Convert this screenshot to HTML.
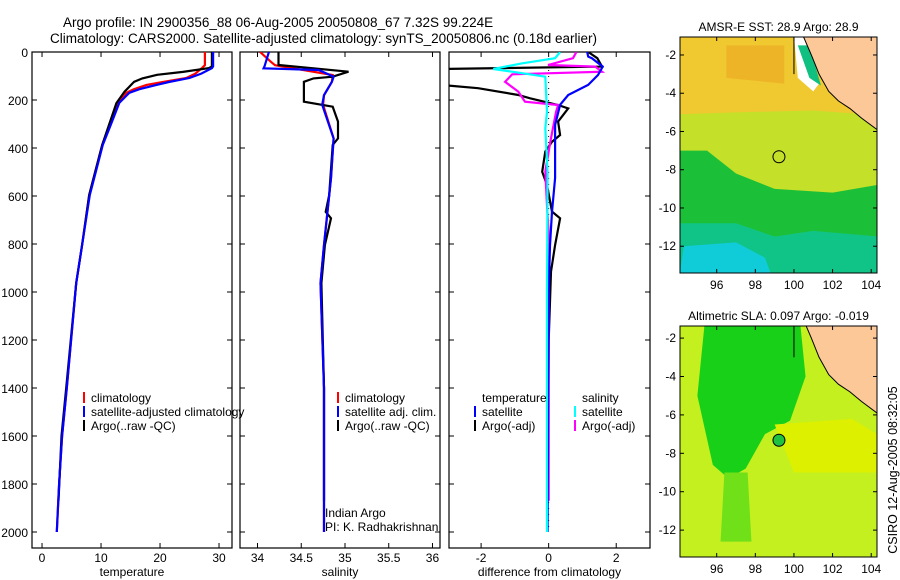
<!DOCTYPE html>
<html><head><meta charset="utf-8"><style>
body{margin:0;background:#fff;}
svg{display:block;font-family:"Liberation Sans",sans-serif;}
</style></head><body>
<svg id="fig" width="900" height="580" viewBox="0 0 900 580" xmlns="http://www.w3.org/2000/svg">
<text x="63" y="27" font-size="13.5">Argo profile: IN 2900356_88 06-Aug-2005 20050808_67 7.32S 99.224E</text>
<text x="50" y="43" font-size="13.5">Climatology: CARS2000. Satellite-adjusted climatology: synTS_20050806.nc (0.18d earlier)</text>
<text transform="translate(897,470) rotate(-90)" text-anchor="middle" font-size="12.5">CSIRO 12-Aug-2005 08:32:05</text>
<g id="plots"></g>
</svg>
<script>
const depthTicks = [0,200,400,600,800,1000,1200,1400,1600,1800,2000];
const tempTicks = [0,10,20,30];
const salTicks = [34,34.5,35,35.5,36];
const salTickLabels = ["34","34.5","35","35.5","36"];
const diffTicks = [-2,0,2];

// temperature panel
const tClimDepth = [0,55,67,90,108,125,137,155,170,212,300,387,596,804,963,1400,1600,1800,2000];
const tClimVal   = [27.6,27.6,27.1,26.0,24.5,20.5,17.7,15.6,14.3,12.8,11.5,10.2,8.0,6.8,5.8,4.2,3.4,2.9,2.5];
const tSatDepth  = [0,60,67,90,108,125,137,155,170,212,300,387,596,804,963,1400,1600,1800,2000];
const tSatVal    = [29.0,29.0,28.8,27.0,25.0,21.5,19.4,16.5,14.8,13.1,11.7,10.3,8.1,6.8,5.8,4.2,3.4,2.9,2.5];
const tArgoDepth = [0,60,67,83,95,110,124,145,165,213,387,596,804,963,1400,1600,1870];
const tArgoVal   = [28.8,28.8,28.3,23.9,19.5,17.0,15.6,14.8,14.0,12.6,10.2,8.0,6.8,5.8,4.1,3.3,2.8];

// salinity panel
const sClimDepth = [0,40,55,96,124,180,220,360,526,804,963,1400,2000];
const sClimVal   = [34.03,34.15,34.2,34.86,34.85,34.76,34.75,34.87,34.84,34.76,34.72,34.76,34.76];
const sSatDepth  = [0,60,68,75,103,124,180,220,360,526,804,963,1400,2000];
const sSatVal    = [34.13,34.08,34.07,34.7,34.87,34.85,34.76,34.74,34.87,34.84,34.76,34.72,34.76,34.76];
const sArgoDepth = [0,54,82,103,110,124,207,228,290,360,387,596,666,693,804,963,1400,1870];
const sArgoVal   = [34.24,34.24,35.04,34.86,34.64,34.53,34.53,34.86,34.92,34.92,34.86,34.82,34.78,34.84,34.77,34.73,34.76,34.76];

// difference panel
const dTSatDepth = [0,19,26,61,96,137,179,220,304,525,666,805,1000,2000];
const dTSatVal   = [1.14,1.17,1.28,1.6,1.46,1.17,0.58,0.34,0.19,0.19,0.1,0.04,0.0,-0.03];
const dTArgoDepth = [0,26,61,71,96,137,151,179,193,221,235,290,346,374,415,499,554,665,693,804,915,1200,1870];
const dTArgoVal   = [1.17,1.44,1.58,-3.2,-3.5,-3.2,-2.09,-0.9,-0.55,0.28,0.58,0.28,0.34,0.1,-0.1,-0.19,-0.05,0.1,0.34,0.19,0.07,0.0,-0.03];
const dSSatDepth = [0,26,47,71,82,103,249,318,500,1000,2000];
const dSSatVal   = [0.34,0.19,-0.78,-1.64,-1.08,-0.1,-0.05,-0.1,-0.03,-0.05,-0.05];
const dSArgoDepth = [0,26,54,61,82,93,124,165,207,221,249,374,499,637,800,1000,1870];
const dSArgoVal   = [0.82,0.72,-0.02,1.38,1.58,-1.08,-1.29,-0.9,-0.7,0.28,0.22,0.05,-0.1,-0.05,0.02,0.0,0.0];

// map data
const lonTicks = [96,98,100,102,104];
const latTicks = [-2,-4,-6,-8,-10,-12];
const argoLon = 99.224, argoLat = -7.32;
const coastLon = [100.5,100.9,101.3,101.8,102.3,102.9,103.5,104.3,104.3];
const coastLat = [-1.06,-2.0,-3.0,-3.9,-4.4,-4.8,-5.3,-5.9,-1.06];

const NS="http://www.w3.org/2000/svg";
const root=document.getElementById('plots');
function mk(tag,attrs,parent){const e=document.createElementNS(NS,tag);for(const k in attrs)e.setAttribute(k,attrs[k]);(parent||root).appendChild(e);return e;}

const Y0=52, DY=0.24, PB=548;
const yDepth=d=>Y0+d*DY;

function panel(name,left,right,xmin,xmax){
  const g=mk('g',{});
  
  
  const sx=v=>left+(v-xmin)/(xmax-xmin)*(right-left);
  return {g,sx,left,right};
}
function frame(p,xt,xtLabels,xlabel,showY){
  const r=mk('rect',{x:p.left,y:Y0,width:p.right-p.left,height:PB-Y0,fill:'none',stroke:'#000','stroke-width':1.2},p.g);
  
  
  depthTicks.forEach(d=>{
    const y=yDepth(d);
    mk('line',{x1:p.left,x2:p.left+5,y1:y,y2:y,stroke:'#000'},p.g);
    mk('line',{x1:p.right-5,x2:p.right,y1:y,y2:y,stroke:'#000'},p.g);
    if(showY){const t=mk('text',{x:p.left-4,y:y+5,'text-anchor':'end','font-size':12},p.g);t.textContent=d;
      
      }
  });
  xt.forEach((v,i)=>{
    const x=p.sx(v);
    mk('line',{x1:x,x2:x,y1:Y0,y2:Y0+5,stroke:'#000'},p.g);
    mk('line',{x1:x,x2:x,y1:PB-5,y2:PB,stroke:'#000'},p.g);
    const t=mk('text',{x:x,y:PB+14,'text-anchor':'middle','font-size':12},p.g);t.textContent=xtLabels[i];
    
    
  });
  const t=mk('text',{x:(p.left+p.right)/2,y:PB+28,'text-anchor':'middle','font-size':12},p.g);t.textContent=xlabel;
  
  
}
function line(p,depths,vals,color,name,w){
  const pts=depths.map((d,i)=>p.sx(vals[i]).toFixed(1)+','+yDepth(d).toFixed(1)).join(' ');
  const l=mk('polyline',{points:pts,fill:'none',stroke:color,'stroke-width':w||2.2,'clip-path':'url(#'+p.clip+')'},p.g);
  
  
}
function clip(p,id){
  let defs=document.getElementById('defs')||mk('defs',{id:'defs'});
  const c=mk('clipPath',{id:id},defs);
  mk('rect',{x:p.left,y:Y0,width:p.right-p.left,height:PB-Y0},c);
  p.clip=id;
}
function legend(p,x,y,items){
  items.forEach((it,i)=>{
    const yy=y+i*14;
    if(it.c){const m=mk('line',{x1:x,x2:x,y1:yy-10,y2:yy+1,stroke:it.c,'stroke-width':2},p.g);
      
      }
    const t=mk('text',{x:x+(it.c?7:0),y:yy,'font-size':12},p.g);t.textContent=it.t;
    
    
  });
}

const p1=panel('temperature-panel',32,232,-1.7,32.2);clip(p1,'c1');
frame(p1,tempTicks,tempTicks.map(String),'temperature',true);
line(p1,tClimDepth,tClimVal,'#f00','climatology-temp-line');
line(p1,tArgoDepth,tArgoVal,'#000','argo-temp-line');
line(p1,tSatDepth,tSatVal,'#00f','satellite-temp-line');
legend(p1,84,402,[{c:'#f00',t:'climatology'},{c:'#00f',t:'satellite-adjusted climatology'},{c:'#000',t:'Argo(..raw -QC)'}]);

const p2=panel('salinity-panel',240,440,33.8,36.086);clip(p2,'c2');
frame(p2,salTicks,salTickLabels,'salinity',false);
line(p2,sClimDepth,sClimVal,'#f00','climatology-salinity-line');
line(p2,sArgoDepth,sArgoVal,'#000','argo-salinity-line');
line(p2,sSatDepth,sSatVal,'#00f','satellite-salinity-line');
legend(p2,338,402,[{c:'#f00',t:'climatology'},{c:'#00f',t:'satellite adj. clim.'},{c:'#000',t:'Argo(..raw -QC)'}]);
legend(p2,325,517,[{t:'Indian Argo'},{t:'PI: K. Radhakrishnan'}]);

const p3=panel('difference-panel',449,650,-2.95,3.0);clip(p3,'c3');
frame(p3,diffTicks,diffTicks.map(String),'difference from climatology',false);
const z=mk('line',{x1:p3.sx(0),x2:p3.sx(0),y1:Y0,y2:yDepth(2000),stroke:'#000','stroke-dasharray':'1 5'},p3.g);


line(p3,dTArgoDepth,dTArgoVal,'#000','argo-temp-diff-line');
line(p3,dSArgoDepth,dSArgoVal,'#f0f','argo-salinity-diff-line');
line(p3,dTSatDepth,dTSatVal,'#00f','satellite-temp-diff-line');
line(p3,dSSatDepth,dSSatVal,'#0ff','satellite-salinity-diff-line');
legend(p3,482,402,[{t:'temperature'}]);
legend(p3,582,402,[{t:'salinity'}]);
legend(p3,475,416,[{c:'#00f',t:'satellite'},{c:'#000',t:'Argo(-adj)'}]);
legend(p3,575,416,[{c:'#0ff',t:'satellite'},{c:'#f0f',t:'Argo(-adj)'}]);

function map(name,top,bottom,latTop,title,sst){
  const L=680,R=877,lonMin=94.1,lonMax=104.3,latBot=-13.4;
  const g=mk('g',{});
  
  
  const mx=lon=>L+(lon-lonMin)/(lonMax-lonMin)*(R-L);
  const my=lat=>top+(latTop-lat)/(latTop-latBot)*(bottom-top);
  const id='m'+top;
  let defs=document.getElementById('defs');
  const c=mk('clipPath',{id:id},defs);mk('rect',{x:L,y:top,width:R-L,height:bottom-top},c);
  const cg=mk('g',{'clip-path':'url(#'+id+')'},g);
  const poly=(pts,fill)=>mk('polygon',{points:pts.map(p=>mx(p[0])+','+my(p[1])).join(' '),fill:fill},cg);
  if(sst){
    mk('rect',{x:L,y:top,width:R-L,height:bottom-top,fill:'#c4e028'},cg);
    poly([[94,-1],[105,-1],[105,-5.2],[101,-4.9],[97,-5.0],[94,-5.1]],'#f0c830');
    poly([[96.5,-1.5],[99.5,-1.5],[99.5,-3.5],[96.5,-3.2]],'#eeb428');
    poly([[94,-7],[95.5,-7],[97,-8.2],[99,-9],[102,-9.2],[104.3,-8.8],[105,-9],[105,-14],[94,-14]],'#1cc038');
    poly([[94,-10.8],[97,-10.8],[99,-11.5],[101,-11.2],[104.5,-11.5],[104.5,-14],[94,-14]],'#10c488');
    poly([[94.3,-12],[97,-11.8],[98.5,-12.6],[99,-14],[94,-14]],'#10ccd8');
    poly([[100,-1],[100.5,-1],[101.3,-3.5],[101,-3.9],[100.2,-3.2]],'#ffffff');
    poly([[100.2,-1.5],[100.8,-1.5],[101.4,-3.6],[100.8,-3.2]],'#10c080');
  } else {
    mk('rect',{x:L,y:top,width:R-L,height:bottom-top,fill:'#c4f020'},cg);
    poly([[95.4,-1],[100.3,-1],[100.6,-4],[99.8,-6.3],[98.5,-7],[97.5,-8.8],[96.6,-9.3],[95.8,-8.6],[95,-5],[95.2,-3]],'#18d018');
    poly([[96.4,-9],[97.6,-9],[97.8,-12.6],[96.2,-12.6]],'#70e018');
    poly([[99,-6.5],[103,-6.2],[104.3,-7],[104.3,-9],[100,-9]],'#dcf000');
  }
  const land=coastLon.map((lo,i)=>[lo,coastLat[i]]);
  const lp=poly(land,'#fdc898');
  lp.setAttribute('stroke','#000');lp.setAttribute('stroke-width','1');
  mk('line',{x1:mx(100),x2:mx(100),y1:top,y2:my(-3),stroke:'#000'},cg);
  const circ=mk('circle',{cx:mx(argoLon),cy:my(argoLat),r:6,fill:sst?'none':'#20c040',stroke:'#000'},g);
  
  
  mk('rect',{x:L,y:top,width:R-L,height:bottom-top,fill:'none',stroke:'#000'},g);
  lonTicks.forEach(lo=>{const x=mx(lo);
    mk('line',{x1:x,x2:x,y1:top,y2:top+4,stroke:'#000'},g);
    mk('line',{x1:x,x2:x,y1:bottom-4,y2:bottom,stroke:'#000'},g);
    const t=mk('text',{x:x,y:bottom+16,'text-anchor':'middle','font-size':12},g);t.textContent=lo;
    
    });
  latTicks.forEach(la=>{const y=my(la);
    mk('line',{x1:L,x2:L+4,y1:y,y2:y,stroke:'#000'},g);
    mk('line',{x1:R-4,x2:R,y1:y,y2:y,stroke:'#000'},g);
    const t=mk('text',{x:L-4,y:y+4,'text-anchor':'end','font-size':12},g);t.textContent=la;
    
    });
  const t=mk('text',{x:(L+R)/2,y:top-6,'text-anchor':'middle','font-size':12},g);t.textContent=title;
  
  
}
map('sst-map',37,273,-1.06,'AMSR-E SST: 28.9 Argo: 28.9',true);
map('sla-map',326,557,-1.37,'Altimetric SLA: 0.097 Argo: -0.019',false);
</script>
</body></html>
